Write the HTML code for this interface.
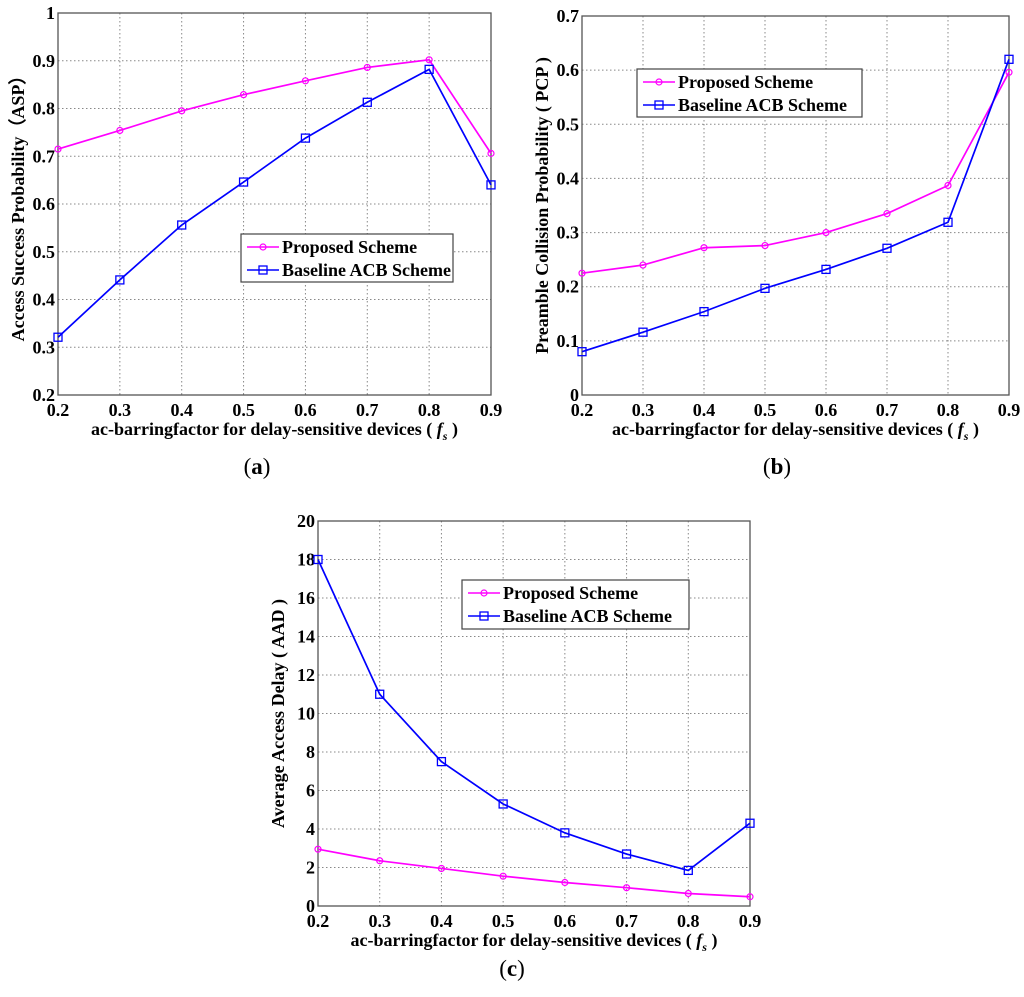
<!DOCTYPE html>
<html><head><meta charset="utf-8"><style>
html,body{margin:0;padding:0;background:#fff;}
svg{display:block;font-family:"Liberation Serif",serif;}
</style></head><body>
<svg id="fig" width="1024" height="997" viewBox="0 0 1024 997" xmlns="http://www.w3.org/2000/svg"></svg>
<script>
const xCategories = [0.2,0.3,0.4,0.5,0.6,0.7,0.8,0.9];
const aspProposed = [0.715,0.754,0.795,0.829,0.858,0.886,0.902,0.706];
const aspBaseline = [0.321,0.441,0.556,0.646,0.738,0.813,0.882,0.640];
const pcpProposed = [0.225,0.240,0.272,0.276,0.300,0.335,0.387,0.596];
const pcpBaseline = [0.080,0.116,0.154,0.197,0.232,0.271,0.319,0.620];
const aadProposed = [2.95,2.35,1.95,1.55,1.22,0.95,0.65,0.48];
const aadBaseline = [18,11,7.5,5.3,3.8,2.7,1.85,4.3];
const xTickLabels = ["0.2","0.3","0.4","0.5","0.6","0.7","0.8","0.9"];
const aTicks = [0.2,0.3,0.4,0.5,0.6,0.7,0.8,0.9,1];
const aTickLabels = ["0.2","0.3","0.4","0.5","0.6","0.7","0.8","0.9","1"];
const bTicks = [0,0.1,0.2,0.3,0.4,0.5,0.6,0.7];
const bTickLabels = ["0","0.1","0.2","0.3","0.4","0.5","0.6","0.7"];
const cTicks = [0,2,4,6,8,10,12,14,16,18,20];
const cTickLabels = ["0","2","4","6","8","10","12","14","16","18","20"];

const NS="http://www.w3.org/2000/svg";
const svg=document.getElementById('fig');
function mk(tag,attrs,parent){const e=document.createElementNS(NS,tag);for(const k in attrs)e.setAttribute(k,attrs[k]);(parent||svg).appendChild(e);return e;}

function panel(cfg){
  const g=mk('g',{});
  
  
  const L=cfg.L,R=cfg.R,T=cfg.T,B=cfg.B;
  const xs=v=>L+(v-0.2)/(0.7)*(R-L);
  const ys=v=>B-(v-cfg.ymin)/(cfg.ymax-cfg.ymin)*(B-T);
  xCategories.forEach((v,i)=>{
    const gl=mk('line',{x1:xs(v),x2:xs(v),y1:T,y2:B,stroke:'#888','stroke-width':1,'stroke-dasharray':'1.5,2.5'},g);
    
    
    const t=mk('text',{x:xs(v),y:B+21,'text-anchor':'middle','font-size':18,'font-weight':'bold'},g);
    t.textContent=xTickLabels[i];
    
    
  });
  cfg.ticks.forEach((v,i)=>{
    const gl=mk('line',{x1:L,x2:R,y1:ys(v),y2:ys(v),stroke:'#888','stroke-width':1,'stroke-dasharray':'1.5,2.5'},g);
    
    
    const t=mk('text',{x:L-3,y:ys(v)+6,'text-anchor':'end','font-size':18,'font-weight':'bold'},g);
    t.textContent=cfg.tickLabels[i];
    
    
  });
  const fr=mk('rect',{x:L,y:T,width:R-L,height:B-T,fill:'none',stroke:'#555','stroke-width':1.3},g);
  
  
  function series(vals,color,marker,nm){
    const pts=vals.map((v,i)=>xs(xCategories[i])+','+ys(v)).join(' ');
    const pl=mk('polyline',{points:pts,fill:'none',stroke:color,'stroke-width':1.7},g);
    
    
    vals.forEach((v,i)=>{
      let m;
      if(marker==='o') m=mk('circle',{cx:xs(xCategories[i]),cy:ys(v),r:3,fill:'none',stroke:color,'stroke-width':1.2},g);
      else m=mk('rect',{x:xs(xCategories[i])-4,y:ys(v)-4,width:8,height:8,fill:'none',stroke:color,'stroke-width':1.3},g);
      
      
    });
  }
  series(cfg.prop,'#ff00ff','o','proposed-scheme');
  series(cfg.base,'#0000ff','s','baseline-acb-scheme');
  const lg=mk('g',{},g);
  
  
  const lx=cfg.leg[0],ly=cfg.leg[1],lw=cfg.leg[2],lh=cfg.leg[3];
  mk('rect',{x:lx,y:ly,width:lw,height:lh,fill:'#fff',stroke:'#444','stroke-width':1.2},lg);
  [['Proposed Scheme','#ff00ff','o'],['Baseline ACB Scheme','#0000ff','s']].forEach((e,i)=>{
    const yy=ly+13+i*23;
    const le=mk('g',{},lg);
    
    
    mk('line',{x1:lx+6,x2:lx+38,y1:yy,y2:yy,stroke:e[1],'stroke-width':1.5},le);
    if(e[2]==='o') mk('circle',{cx:lx+22,cy:yy,r:3,fill:'none',stroke:e[1],'stroke-width':1.2},le);
    else mk('rect',{x:lx+18,y:yy-4,width:8,height:8,fill:'none',stroke:e[1],'stroke-width':1.3},le);
    const t=mk('text',{x:lx+41,y:yy+6,'font-size':18,'font-weight':'bold'},le);
    t.textContent=e[0];
  });
  const xt=mk('text',{x:(L+R)/2,y:B+40,'text-anchor':'middle','font-size':18,'font-weight':'bold'},g);
  xt.innerHTML='ac-barringfactor for delay-sensitive devices ( <tspan font-style="italic">f</tspan><tspan font-style="italic" font-size="12" dy="5">s</tspan><tspan dy="-5"> )</tspan>';
  
  
  const yt=mk('text',{x:0,y:0,'text-anchor':'middle','font-size':18,'font-weight':'bold',transform:`translate(${cfg.ytx},${(T+B)/2}) rotate(-90)`},g);
  yt.textContent=cfg.ytitle;
  
  
  const cap=mk('text',{x:cfg.cap[0],y:cfg.cap[1],'text-anchor':'middle','font-size':23},g);
  cap.innerHTML='(<tspan font-weight="bold">'+cfg.capl+'</tspan>)';
  
  
}

panel({name:'chart-asp',L:58,R:491,T:13,B:395,ymin:0.2,ymax:1,ticks:aTicks,tickLabels:aTickLabels,prop:aspProposed,base:aspBaseline,leg:[241,234,212,48],ytitle:'Access Success Probability（ASP）',ytx:24,cap:[257,474],capl:'a'});
panel({name:'chart-pcp',L:582,R:1009,T:16,B:395,ymin:0,ymax:0.7,ticks:bTicks,tickLabels:bTickLabels,prop:pcpProposed,base:pcpBaseline,leg:[637,69,225,48],ytitle:'Preamble Collision Probability ( PCP )',ytx:548,cap:[777,474],capl:'b'});
panel({name:'chart-aad',L:318,R:750,T:521,B:906,ymin:0,ymax:20,ticks:cTicks,tickLabels:cTickLabels,prop:aadProposed,base:aadBaseline,leg:[462,580,227,49],ytitle:'Average Access Delay ( AAD )',ytx:284,cap:[512,976],capl:'c'});
</script>
</body></html>
